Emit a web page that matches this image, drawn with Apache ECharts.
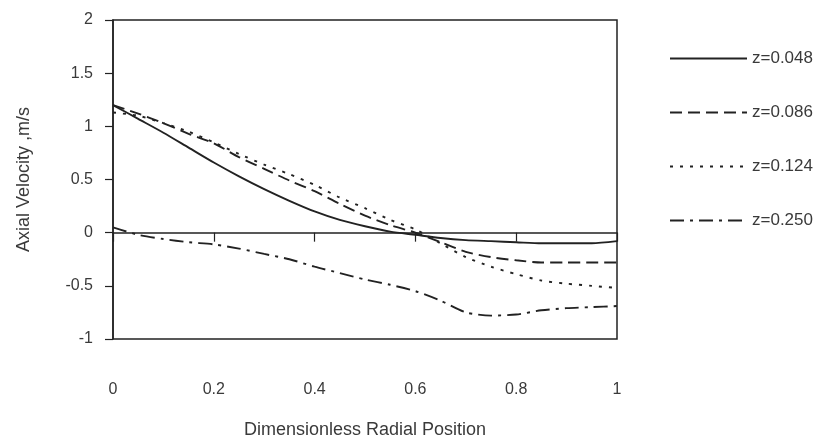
<!DOCTYPE html>
<html>
<head>
<meta charset="utf-8">
<script src="https://cdn.jsdelivr.net/npm/echarts@6/dist/echarts.min.js"></script>
<style>
  html, body { margin: 0; padding: 0; background: #ffffff; }
  #chart { width: 825px; height: 442px; }
</style>
</head>
<body>
<div id="chart"></div>
<script>
// Radial positions (dimensionless)
const radialPos = [0, 0.05, 0.1, 0.15, 0.2, 0.25, 0.3, 0.35, 0.4, 0.45, 0.5,
                   0.55, 0.6, 0.65, 0.7, 0.75, 0.8, 0.85, 0.9, 0.95, 1.0];

// Axial velocity profiles, m/s, at each axial station z
const vel_z048 = [1.20, 1.07, 0.94, 0.80, 0.66, 0.53, 0.41, 0.30, 0.20, 0.12, 0.06,
                  0.01, -0.02, -0.05, -0.07, -0.08, -0.09, -0.10, -0.10, -0.10, -0.08];
const vel_z086 = [1.20, 1.12, 1.03, 0.93, 0.84, 0.71, 0.60, 0.49, 0.39, 0.27, 0.16,
                  0.07, 0.00, -0.09, -0.18, -0.23, -0.26, -0.28, -0.28, -0.28, -0.28];
const vel_z124 = [1.13, 1.10, 1.03, 0.95, 0.85, 0.74, 0.64, 0.55, 0.45, 0.33, 0.23,
                  0.12, 0.03, -0.10, -0.23, -0.32, -0.39, -0.45, -0.48, -0.50, -0.52];
const vel_z250 = [0.05, -0.02, -0.06, -0.09, -0.11, -0.15, -0.20, -0.25, -0.32, -0.38, -0.44,
                  -0.49, -0.55, -0.64, -0.75, -0.78, -0.77, -0.73, -0.71, -0.70, -0.69];

const seriesNames = ['z=0.048', 'z=0.086', 'z=0.124', 'z=0.250'];
const xTicks = { min: 0, max: 1, step: 0.2 };
const yTicks = { min: -1, max: 2, step: 0.5 };

const ink = '#222222';
const textInk = '#3a3a3a';
const font = 'Liberation Sans, Arial, sans-serif';

function pairs(ys) {
  return radialPos.map((x, i) => [x, ys[i]]);
}

function lineSeries(name, ys, dash) {
  return {
    name: name,
    type: 'line',
    xAxisIndex: 0,
    yAxisIndex: 0,
    data: pairs(ys),
    symbol: 'none',
    smooth: 0.25,
    lineStyle: { color: ink, width: 1.9, type: dash },
    itemStyle: { color: ink },
    z: 3
  };
}

const chart = echarts.init(document.getElementById('chart'), null, { renderer: 'canvas' });

chart.setOption({
  backgroundColor: '#ffffff',
  animation: false,
  textStyle: { fontFamily: font },
  grid: {
    left: 113, right: 208, top: 20, bottom: 103,
    containLabel: false,
    outerBoundsMode: 'none',
    show: true, borderColor: ink, borderWidth: 1.5, backgroundColor: 'transparent'
  },
  legend: {
    orient: 'vertical',
    left: 669,
    top: 50,
    padding: 0,
    itemWidth: 77,
    itemHeight: 14,
    itemGap: 37,
    selectedMode: false,
    itemStyle: { opacity: 0 },
    textStyle: { fontFamily: font, fontSize: 17, color: textInk },
    data: seriesNames
  },
  xAxis: [
    {
      // zero line through the plot, ticks hanging below it
      type: 'value',
      min: xTicks.min, max: xTicks.max, interval: xTicks.step,
      position: 'bottom',
      axisLine: { show: true, onZero: true, lineStyle: { color: ink, width: 1.5 } },
      axisTick: { show: true, inside: false, length: 9, lineStyle: { color: ink, width: 1.2 } },
      axisLabel: { show: false },
      splitLine: { show: false }
    },
    {
      // tick labels and title along the bottom of the frame
      type: 'value',
      min: xTicks.min, max: xTicks.max, interval: xTicks.step,
      position: 'bottom',
      axisLine: { show: false, onZero: false },
      axisTick: { show: false },
      axisLabel: { show: true, margin: 43, fontSize: 16, color: textInk, fontFamily: font },
      splitLine: { show: false },
      name: 'Dimensionless Radial Position',
      nameLocation: 'middle',
      nameGap: 82,
      nameTextStyle: { fontSize: 18, color: textInk, fontFamily: font }
    }
  ],
  yAxis: {
    type: 'value',
    min: yTicks.min, max: yTicks.max, interval: yTicks.step,
    axisLine: { show: true, onZero: false, lineStyle: { color: ink, width: 1.5 } },
    axisTick: { show: true, inside: false, length: 8, lineStyle: { color: ink, width: 1.2 } },
    axisLabel: { margin: 20, fontSize: 16, color: textInk, fontFamily: font },
    splitLine: { show: false },
    name: 'Axial Velocity ,m/s',
    nameLocation: 'middle',
    nameGap: 80,
    nameTextStyle: { fontSize: 18, color: textInk, fontFamily: font }
  },
  series: [
    lineSeries(seriesNames[0], vel_z048, 'solid'),
    lineSeries(seriesNames[1], vel_z086, [12, 6]),
    lineSeries(seriesNames[2], vel_z124, [3, 7]),
    lineSeries(seriesNames[3], vel_z250, [14, 6, 3, 6])
  ]
});
</script>
</body>
</html>
